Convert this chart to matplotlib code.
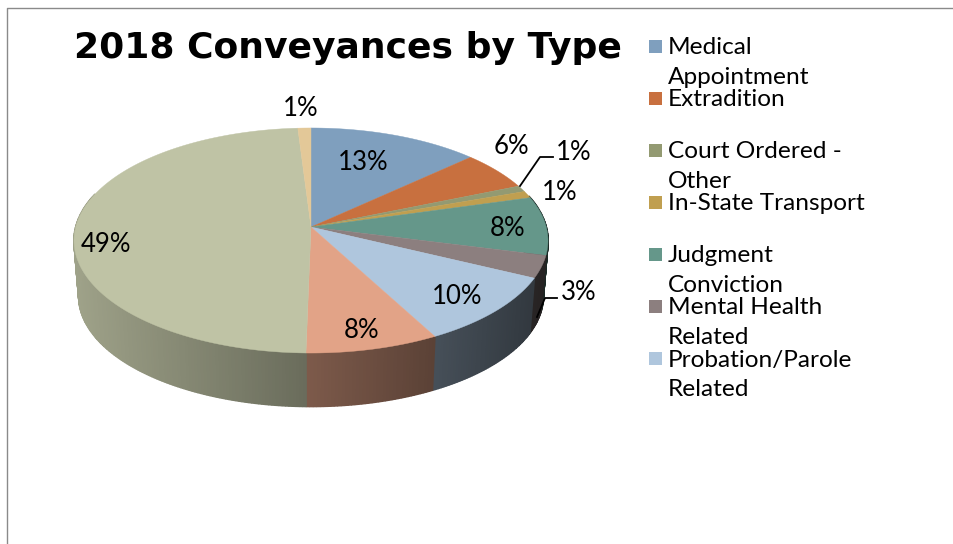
import numpy as np
import matplotlib

matplotlib.use("Agg")
import matplotlib.pyplot as plt
from matplotlib.collections import PolyCollection
from matplotlib.colors import to_rgb

TITLE = "2018 Conveyances by Type"

# shares, the labels show them rounded
shares = [13.1, 5.6, 0.9, 1.0, 8.4, 3.2, 10.0, 8.1, 48.7, 1.0]
colors = ["#7f9fbe", "#c8703f", "#939a72", "#c09f50", "#65978a",
          "#8c7f7f", "#afc6dd", "#e2a387", "#bfc3a5", "#e3c898"]
label_pos = [(363, 161), (511, 144), (574, 151), (560, 191), (508, 227),
             (579, 290), (457, 295), (362, 328), (106, 242), (301, 107)]
legend_lines = [["Medical", "Appointment"], ["Extradition"], ["Court Ordered -", "Other"],
                ["In-State Transport"], ["Judgment", "Conviction"],
                ["Mental Health", "Related"], ["Probation/Parole", "Related"]]

HUB_X, HUB_Y = 311, 227
RX, A, K = 235.3, 110.9, 0.12  # perspective circle
DEPTH, BOTTOM_SCALE = 56, 0.98
LABEL_FONT = "Lato"


def project(theta):
    u, v = np.sin(theta), np.cos(theta)
    w = 1 + K * v
    return RX * u / w, A * v / w


def side_shade(x_rel):
    return 0.55 - 0.28 * x_rel


fig = plt.figure(figsize=(9.54, 5.44), dpi=100)
ax = fig.add_axes([0, 0, 1, 1])
ax.set_xlim(0, 954)
ax.set_ylim(544, 0)
ax.axis("off")

# slide frame
ax.plot([7, 7, 954], [544, 8, 8], color="#8a8a8a", lw=1)

edges = np.cumsum([0] + shares) / sum(shares) * 2 * np.pi

# rim first, top surface goes over it
quads, quad_colors = [], []
for i, col in enumerate(colors):
    steps = max(int((edges[i + 1] - edges[i]) / np.radians(0.75)), 1)
    th = np.linspace(edges[i], edges[i + 1], steps + 1)
    xs, ys = project(th)
    for j in range(steps):
        if np.cos(th[j]) > 0.3:
            continue
        quads.append([
            (HUB_X + xs[j], HUB_Y - ys[j]),
            (HUB_X + xs[j + 1], HUB_Y - ys[j + 1]),
            (HUB_X + xs[j + 1] * BOTTOM_SCALE, HUB_Y - ys[j + 1] * BOTTOM_SCALE + DEPTH),
            (HUB_X + xs[j] * BOTTOM_SCALE, HUB_Y - ys[j] * BOTTOM_SCALE + DEPTH),
        ])
        shade = side_shade(xs[j] / 237)
        quad_colors.append(tuple(c * shade for c in to_rgb(col)))
ax.add_collection(PolyCollection(quads, facecolors=quad_colors, edgecolors=quad_colors,
                                 linewidths=1.2, capstyle="butt", joinstyle="bevel"))

for i, col in enumerate(colors):
    th = np.linspace(edges[i], edges[i + 1], 120)
    xs, ys = project(th)
    ax.fill(np.r_[HUB_X, HUB_X + xs], np.r_[HUB_Y, HUB_Y - ys], color=col, lw=0.3)

# leader lines of the two small labels
ax.plot([520, 540, 553], [186, 157, 157], color="black", lw=1.3)
ax.plot([537, 545, 557], [317, 298, 298], color="black", lw=1.3)

for share, (x, y) in zip(shares, label_pos):
    ax.text(x, y + 2, f"{round(share)}%", ha="center", va="center",
            fontsize=18.5, family=LABEL_FONT, color="black")

ax.text(348, 48, TITLE, ha="center", va="center", fontsize=26,
        family="DejaVu Sans", fontweight="bold", color="black")

y = 46
for lines, col in zip(legend_lines, colors):
    ax.fill([649, 662, 662, 649], [y - 6.5, y - 6.5, y + 6.5, y + 6.5], color=col, lw=0)
    for n, line in enumerate(lines):
        ax.text(668, y + 2 + n * 29, line, ha="left", va="center",
                fontsize=17.6, family=LABEL_FONT, color="black")
    y += 52

fig.savefig("out.png", dpi=100)
